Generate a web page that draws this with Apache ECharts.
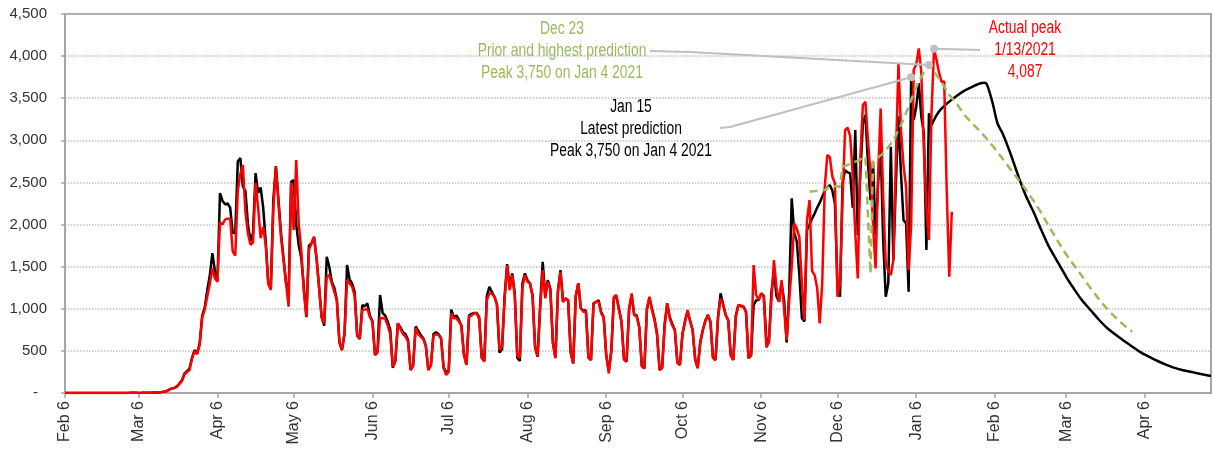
<!DOCTYPE html>
<html>
<head>
<meta charset="utf-8">
<script src="https://cdn.jsdelivr.net/npm/echarts@6/dist/echarts.min.js"></script>
<style>
  html, body { margin: 0; padding: 0; background: #fff; }
  #chart { width: 1213px; height: 452px; }
</style>
</head>
<body>
<div id="chart"></div>
<script>
// daily axis: Feb 6 2020 .. May 2 2021
const startDay = Date.UTC(2020, 1, 6);
const dayCount = 452;
const dates = [];
for (let i = 0; i < dayCount; i++) {
  dates.push(new Date(startDay + i * 86400000).toISOString().slice(0, 10));
}
const monthNames = ["Jan", "Feb", "Mar", "Apr", "May", "Jun", "Jul", "Aug", "Sep", "Oct", "Nov", "Dec"];

const yTicks = [0, 500, 1000, 1500, 2000, 2500, 3000, 3500, 4000, 4500];

// actual daily deaths (red), one value per day from Feb 6 2020
const actualDeaths = [
  0, 0, 0, 0, 0, 0, 0, 0, 0, 0,
  0, 0, 0, 0, 0, 0, 0, 0, 0, 0,
  0, 0, 0, 1, 0, 1, 4, 3, 2, 1,
  2, 4, 3, 4, 5, 8, 7, 10, 11, 16,
  23, 40, 53, 58, 72, 110, 139, 220, 248, 273,
  410, 500, 460, 570, 900, 990, 1150, 1300, 1480, 1360,
  1320, 2030, 2000, 2060, 2070, 2070, 1680, 1630, 2400, 2600,
  2706, 2150, 1890, 1760, 1790, 2493, 2200, 1840, 1974, 1750,
  1300, 1222, 2200, 2690, 2250, 1850, 1580, 1300, 1025, 2500,
  1935, 2766, 2000, 1697, 1200, 906, 1700, 1777, 1855, 1600,
  1250, 900, 827, 1381, 1400, 1300, 1200, 1100, 600, 510,
  700, 1341, 1300, 1262, 1150, 680, 649, 985, 990, 1000,
  900, 850, 451, 480, 887, 890, 880, 800, 700, 312,
  380, 827, 760, 700, 670, 609, 273, 320, 768, 700,
  668, 640, 560, 273, 330, 680, 700, 688, 650, 300,
  214, 250, 946, 887, 887, 850, 800, 450, 332, 906,
  920, 946, 946, 880, 420, 372, 1100, 1180, 1180, 1143,
  1050, 510, 560, 1104, 1519, 1222, 1400, 1150, 450, 412,
  1250, 1400, 1321, 1300, 1150, 560, 431, 1000, 1460, 1123,
  1321, 1222, 600, 412, 1200, 1440, 1083, 1123, 1100, 500,
  352, 1150, 1302, 1005, 965, 965, 420, 392, 1064, 1083,
  1083, 946, 900, 450, 234, 500, 1143, 1163, 985, 850,
  400, 372, 1000, 1183, 926, 906, 780, 320, 293, 1000,
  1143, 985, 866, 700, 273, 300, 800, 1064, 887, 800,
  748, 360, 332, 700, 850, 985, 850, 748, 400, 293,
  600, 748, 850, 926, 846, 420, 392, 900, 1123, 1050,
  926, 866, 450, 392, 900, 1044, 1040, 1025, 965, 412,
  450, 1519, 1163, 1104, 1183, 1150, 540, 600, 1100, 1579,
  1250, 1083, 1341, 1000, 629, 1100, 1500, 2014, 1950, 1850,
  1300, 866, 2050, 2291, 1450, 1400, 1250, 827, 1300, 2449,
  2825, 2800, 2568, 2489, 1143, 1300, 2300, 3122, 3150, 3050,
  2600, 1900, 1361, 2800, 3420, 3458, 3000, 2607, 2000, 1480,
  2600, 3379, 2330, 1539, 1450, 1400, 1579, 2805, 3913, 3122,
  2700, 2449, 1460, 2000, 3834, 3900, 4091, 3800, 2900, 2200,
  1816, 3320, 4087, 3953, 3800, 3695, 3700, 2400, 1381, 2152
];

// Jan 15 model (black): history part, one value per day from Feb 6 2020
const jan15History = [
  0, 0, 0, 0, 0, 0, 0, 0, 0, 0,
  0, 0, 0, 0, 0, 0, 0, 0, 0, 0,
  0, 0, 0, 1, 0, 1, 4, 3, 2, 1,
  2, 4, 3, 4, 5, 8, 7, 10, 11, 16,
  23, 40, 55, 60, 80, 110, 150, 230, 260, 290,
  420, 510, 470, 590, 920, 1020, 1222, 1400, 1660, 1450,
  1330, 2374, 2280, 2240, 2250, 2200, 1900, 1900, 2750, 2790,
  2450, 2400, 2000, 1800, 1900, 2611, 2374, 2440, 2200, 1800,
  1300, 1250, 2300, 2690, 2300, 1900, 1600, 1306, 1200, 2508,
  2528, 2000, 1750, 1600, 1250, 900, 1750, 1777, 1850, 1600,
  1250, 900, 800, 1618, 1500, 1320, 1250, 1100, 600, 510,
  700, 1519, 1350, 1300, 1200, 680, 640, 1044, 1030, 1064,
  920, 850, 451, 500, 1163, 950, 920, 850, 750, 300,
  380, 827, 780, 720, 700, 630, 273, 330, 790, 740,
  690, 650, 560, 273, 330, 700, 720, 700, 650, 300,
  250, 260, 990, 900, 920, 870, 800, 460, 340, 920,
  940, 950, 950, 900, 420, 380, 1150, 1262, 1200, 1143,
  1050, 480, 520, 1150, 1530, 1250, 1420, 1180, 420, 380,
  1300, 1420, 1340, 1300, 1160, 540, 431, 1050, 1558, 1150,
  1340, 1240, 600, 420, 1220, 1460, 1083, 1123, 1100, 480,
  352, 1150, 1302, 1005, 980, 980, 420, 392, 1064, 1080,
  1100, 960, 900, 450, 260, 500, 1120, 1150, 1000, 850,
  400, 372, 990, 1160, 930, 920, 780, 320, 293, 990,
  1130, 1000, 880, 700, 273, 300, 820, 1064, 900, 820,
  748, 360, 340, 700, 850, 970, 860, 748, 400, 300,
  600, 748, 860, 926, 846, 420, 392, 900, 1183, 1050,
  926, 866, 450, 392, 920, 1044, 1030, 1025, 965, 412,
  450, 1044, 1100, 1104, 1183, 1150, 650, 593, 1200, 1440,
  1150, 1083, 1300, 1100, 600, 1200, 2311, 1900, 1800, 1400,
  887, 850, 1935, 2000, 2070, 2130, 2200, 2260, 2330, 2400,
  2440, 2469, 2400, 2250, 1300, 1143, 2500, 2647, 2620, 2607,
  2200, 3122, 1875, 2600, 3200, 3300, 2726, 2291, 2746, 1875,
  2500, 2924, 1800, 1143, 1302, 2924, 1579, 2500, 3284, 2600,
  2053, 2014, 1202, 3750, 3241, 3400, 3676, 3280, 3083, 1697,
  3320, 3181
];

// Jan 15 model (black): forecast part
const jan15Forecast = [
  ["2021-01-12", 3181], ["2021-01-14", 3300], ["2021-01-16", 3379], ["2021-01-19", 3460],
  ["2021-01-22", 3530], ["2021-01-25", 3590], ["2021-01-28", 3635], ["2021-01-31", 3675],
  ["2021-02-02", 3683], ["2021-02-03", 3650], ["2021-02-05", 3450], ["2021-02-07", 3200],
  ["2021-02-09", 3082], ["2021-02-12", 2850], ["2021-02-15", 2590], ["2021-02-18", 2350],
  ["2021-02-21", 2160], ["2021-02-24", 1950], ["2021-02-27", 1750], ["2021-03-02", 1590],
  ["2021-03-06", 1380], ["2021-03-09", 1240], ["2021-03-12", 1110], ["2021-03-16", 970],
  ["2021-03-19", 867], ["2021-03-22", 775], ["2021-03-26", 680], ["2021-03-29", 615],
  ["2021-04-01", 550], ["2021-04-05", 470], ["2021-04-08", 425], ["2021-04-11", 380],
  ["2021-04-14", 340], ["2021-04-17", 305], ["2021-04-21", 270], ["2021-04-25", 245],
  ["2021-04-29", 220], ["2021-05-02", 202]
];

// Dec 23 model (green dashed)
const dec23Forecast = [
  ["2020-11-25", 2389], ["2020-11-28", 2400], ["2020-12-01", 2409], ["2020-12-03", 2460],
  ["2020-12-07", 2450], ["2020-12-08", 2686], ["2020-12-11", 2720], ["2020-12-14", 2760],
  ["2020-12-17", 2805], ["2020-12-18", 2100], ["2020-12-19", 1420], ["2020-12-20", 2766],
  ["2020-12-22", 2800], ["2020-12-24", 2845], ["2020-12-26", 2920], ["2020-12-28", 3000],
  ["2020-12-30", 3120], ["2021-01-01", 3250], ["2021-01-03", 3400], ["2021-01-05", 3560],
  ["2021-01-07", 3700], ["2021-01-09", 3810], ["2021-01-11", 3894], ["2021-01-13", 3820],
  ["2021-01-15", 3730], ["2021-01-17", 3640], ["2021-01-19", 3540], ["2021-01-22", 3430],
  ["2021-01-25", 3300], ["2021-01-28", 3200], ["2021-01-31", 3110], ["2021-02-03", 3010],
  ["2021-02-06", 2900], ["2021-02-09", 2780], ["2021-02-12", 2660], ["2021-02-15", 2540],
  ["2021-02-18", 2420], ["2021-02-21", 2290], ["2021-02-24", 2150], ["2021-02-27", 1990],
  ["2021-03-02", 1840], ["2021-03-05", 1690], ["2021-03-08", 1560], ["2021-03-11", 1440],
  ["2021-03-14", 1310], ["2021-03-17", 1190], ["2021-03-20", 1070], ["2021-03-23", 970],
  ["2021-03-26", 880], ["2021-03-29", 800], ["2021-04-01", 728]
];

// callout points
const peakJan15 = ["2021-01-04", 3750];
const peakDec23 = ["2021-01-11", 3894];
const peakActual = ["2021-01-13", 4087];

const FONT = '"Liberation Sans", Arial, sans-serif';
const GREEN = "#9bbb59";
const GRID_GRAY = "#a6a6a6";

const isTickDay = (idx, val) => val.slice(8) === "06";

const chart = echarts.init(document.getElementById("chart"));

const option = {
  animation: false,
  backgroundColor: "#fff",
  grid: {
    left: 65, right: 2, top: 14, bottom: 59,
    show: true, borderColor: GRID_GRAY, borderWidth: 2
  },
  xAxis: {
    type: "category",
    data: dates,
    boundaryGap: false,
    axisLine: { lineStyle: { color: GRID_GRAY, width: 2 } },
    axisTick: { interval: isTickDay, length: 5, lineStyle: { color: GRID_GRAY, width: 1.5 } },
    axisLabel: {
      interval: isTickDay,
      rotate: 90,
      margin: 8,
      color: "#333",
      fontFamily: FONT,
      fontSize: 16,
      formatter: (v) => monthNames[+v.slice(5, 7) - 1] + " " + (+v.slice(8))
    },
    splitLine: { show: false }
  },
  yAxis: {
    type: "value",
    min: yTicks[0],
    max: yTicks[yTicks.length - 1],
    interval: 500,
    axisLine: { show: true, lineStyle: { color: GRID_GRAY, width: 2 } },
    axisTick: { show: true, length: 4, lineStyle: { color: GRID_GRAY, width: 1.5 } },
    axisLabel: {
      margin: 18,
      color: "#333",
      fontFamily: FONT,
      fontSize: 15,
      formatter: (v) => (v === 0 ? "{dash|-}" : v.toLocaleString("en-US")),
      rich: { dash: { fontFamily: FONT, fontSize: 15, color: "#333", padding: [0, 9, 0, 0] } }
    },
    splitLine: { lineStyle: { color: "#c0c0c0", type: "dotted", width: 1.5 } }
  },
  series: [
    {
      name: "Jan 15 model",
      type: "line",
      data: jan15History,
      showSymbol: false,
      lineStyle: { color: "#000", width: 2.5 },
      z: 2
    },
    {
      name: "Jan 15 forecast",
      type: "line",
      data: jan15Forecast,
      showSymbol: false,
      smooth: 0.25,
      lineStyle: { color: "#000", width: 2.5 },
      z: 2
    },
    {
      name: "Actual",
      type: "line",
      data: actualDeaths,
      showSymbol: false,
      lineStyle: { color: "#ff0000", width: 2.5 },
      z: 3
    },
    {
      name: "Dec 23 model",
      type: "line",
      data: dec23Forecast,
      showSymbol: false,
      lineStyle: { color: GREEN, width: 2.5, type: [8, 5] },
      z: 4
    }
  ]
};

chart.setOption(option);

// callouts: text blocks, leader lines and grey dots on the data points
const toPx = (p) => chart.convertToPixel({ gridIndex: 0 }, p);
const dotJan15 = toPx(peakJan15);
const dotDec23 = toPx(peakDec23);
const dotActual = toPx(peakActual);

// condensed look: regular face squeezed horizontally
function textBlock(lines, cx, y0, color) {
  return lines.map((t, i) => ({
    type: "text",
    z: 100,
    x: cx,
    y: y0 + i * 22,
    scaleX: 0.77,
    style: {
      text: t, x: 0, y: 0,
      fill: color, font: "18px " + FONT,
      align: "center", verticalAlign: "middle"
    }
  }));
}

function leader(points) {
  return {
    type: "polyline",
    z: 90,
    shape: { points: points },
    style: { stroke: "#bfbfbf", lineWidth: 2, fill: null }
  };
}

function dot(p) {
  return { type: "circle", z: 95, shape: { cx: p[0], cy: p[1], r: 4 }, style: { fill: "#bfbfbf" } };
}

chart.setOption({
  graphic: [
    ...textBlock(["Dec 23", "Prior and highest prediction", "Peak 3,750 on Jan 4 2021"], 562, 29, GREEN),
    ...textBlock(["Jan 15", "Latest prediction", "Peak 3,750 on Jan 4 2021"], 631, 107, "#000"),
    ...textBlock(["Actual peak", "1/13/2021", "4,087"], 1025, 28, "#ff0000"),
    leader([[650, 51], [690, 52], dotDec23]),
    leader([[720, 128], [730, 127], dotJan15]),
    leader([dotActual, [980, 50]]),
    dot(dotJan15),
    dot(dotDec23),
    dot(dotActual)
  ]
});
</script>
</body>
</html>
